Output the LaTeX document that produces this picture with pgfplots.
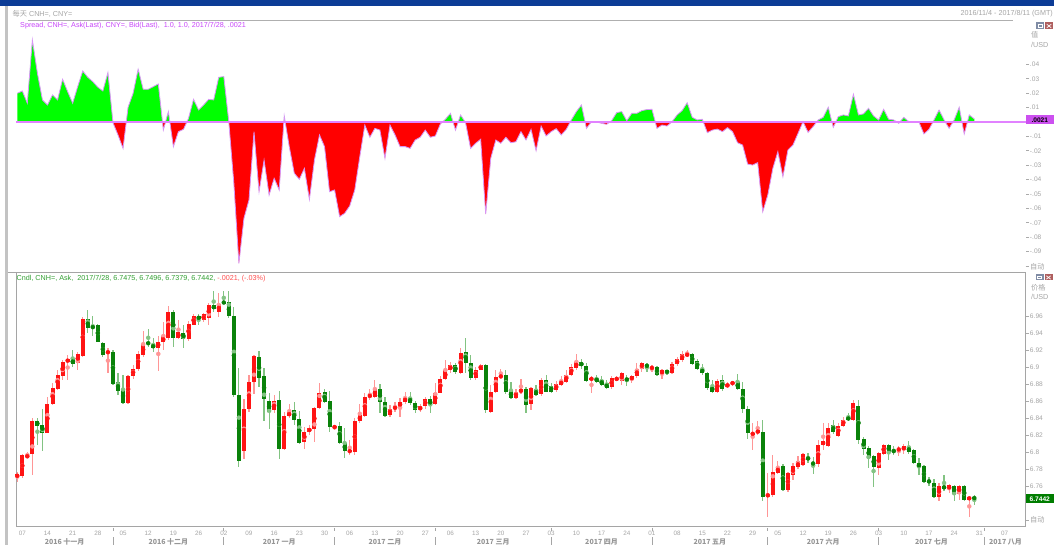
\documentclass[border=0pt]{standalone}
\usepackage{fontspec}
\setmainfont{Liberation Sans}
\newfontfamily\cjk{Noto Sans CJK SC}
\usepackage{pgfplots}
\usepackage{pgfplotstable}
\pgfplotsset{compat=1.18}

\definecolor{barblue}{RGB}{12,60,150}
\definecolor{framegray}{RGB}{195,195,195}
\definecolor{labgray}{RGB}{165,165,165}
\definecolor{hdrgray}{RGB}{175,175,175}
\definecolor{tickgray}{RGB}{170,170,170}
\definecolor{boxgray}{RGB}{165,165,165}
\definecolor{mgray}{RGB}{150,150,150}
\definecolor{sgreen}{RGB}{0,255,0}
\definecolor{sred}{RGB}{255,0,0}
\definecolor{slinec}{RGB}{215,150,245}
\definecolor{zlinec}{RGB}{225,130,255}
\definecolor{titleviolet}{RGB}{200,70,250}
\definecolor{cred}{RGB}{255,20,20}
\definecolor{cgreen}{RGB}{10,130,10}
\definecolor{wred}{RGB}{255,150,150}
\definecolor{wgreen}{RGB}{130,195,130}
\definecolor{cndlgreen}{RGB}{50,160,50}
\definecolor{cndlred}{RGB}{255,80,80}
\definecolor{boxviolet}{RGB}{204,80,240}
\definecolor{boxgreen}{RGB}{0,125,0}
\definecolor{iconblue}{RGB}{128,140,165}
\definecolor{iconred}{RGB}{175,95,95}

\newcommand\ticklab{\fontsize{6.6}{7.5}\selectfont}
\newcommand\daylab{\fontsize{6.3}{7}\selectfont}
\newcommand\ttl{\fontsize{7.2}{8.5}\selectfont}
\newcommand\monthfont{\cjk\bfseries\fontsize{7}{8}\selectfont}

\pgfplotstableread{
i o h l c
-1 6.770 6.777 6.765 6.774
0 6.772 6.798 6.770 6.796
1 6.794 6.800 6.793 6.796
2 6.798 6.840 6.773 6.836
3 6.836 6.840 6.808 6.831
4 6.832 6.851 6.801 6.823
5 6.823 6.865 6.822 6.856
6 6.856 6.881 6.855 6.875
7 6.874 6.896 6.873 6.891
8 6.890 6.908 6.885 6.906
9 6.906 6.914 6.885 6.909
10 6.909 6.920 6.900 6.904
11 6.905 6.918 6.896 6.915
12 6.913 6.959 6.912 6.957
13 6.956 6.967 6.940 6.946
14 6.948 6.960 6.936 6.946
15 6.950 6.951 6.929 6.930
16 6.928 6.930 6.912 6.914
17 6.916 6.922 6.893 6.919
18 6.918 6.920 6.879 6.880
19 6.883 6.893 6.867 6.872
20 6.874 6.891 6.856 6.858
21 6.858 6.891 6.857 6.890
22 6.889 6.902 6.886 6.898
23 6.898 6.919 6.895 6.915
24 6.914 6.942 6.912 6.927
25 6.929 6.945 6.924 6.927
26 6.927 6.934 6.918 6.922
27 6.922 6.936 6.895 6.930
28 6.929 6.953 6.920 6.936
29 6.934 6.972 6.932 6.965
30 6.965 6.967 6.924 6.934
31 6.934 6.955 6.933 6.941
32 6.940 6.949 6.922 6.933
33 6.933 6.954 6.931 6.951
34 6.950 6.962 6.949 6.960
35 6.960 6.962 6.949 6.956
36 6.955 6.964 6.953 6.962
37 6.958 6.975 6.949 6.973
38 6.973 6.989 6.965 6.968
39 6.965 6.987 6.959 6.974
40 6.977 6.989 6.974 6.975
41 6.976 6.989 6.958 6.960
42 6.960 6.971 6.865 6.867
43 6.867 6.899 6.782 6.789
44 6.801 6.863 6.792 6.851
45 6.851 6.891 6.847 6.882
46 6.882 6.914 6.868 6.913
47 6.912 6.919 6.877 6.887
48 6.889 6.899 6.836 6.862
49 6.860 6.870 6.827 6.847
50 6.849 6.867 6.846 6.860
51 6.861 6.872 6.792 6.804
52 6.804 6.847 6.802 6.842
53 6.842 6.856 6.840 6.847
54 6.849 6.859 6.832 6.838
55 6.839 6.848 6.810 6.811
56 6.812 6.830 6.804 6.824
57 6.824 6.832 6.820 6.828
58 6.827 6.853 6.812 6.852
59 6.852 6.881 6.851 6.869
60 6.870 6.874 6.858 6.859
61 6.860 6.872 6.824 6.829
62 6.828 6.832 6.826 6.831
63 6.831 6.835 6.809 6.811
64 6.811 6.828 6.793 6.801
65 6.800 6.814 6.796 6.802
66 6.800 6.840 6.796 6.836
67 6.836 6.856 6.834 6.844
68 6.842 6.869 6.841 6.865
69 6.865 6.874 6.861 6.867
70 6.865 6.885 6.863 6.874
71 6.874 6.880 6.846 6.859
72 6.859 6.865 6.841 6.842
73 6.844 6.855 6.841 6.851
74 6.850 6.859 6.847 6.854
75 6.853 6.863 6.841 6.859
76 6.859 6.871 6.856 6.864
77 6.864 6.871 6.855 6.858
78 6.858 6.860 6.846 6.849
79 6.849 6.856 6.847 6.854
80 6.854 6.865 6.851 6.862
81 6.862 6.866 6.846 6.855
82 6.857 6.881 6.855 6.870
83 6.870 6.889 6.869 6.886
84 6.886 6.908 6.885 6.896
85 6.896 6.906 6.893 6.902
86 6.902 6.905 6.892 6.894
87 6.893 6.922 6.892 6.917
88 6.918 6.934 6.893 6.905
89 6.905 6.914 6.885 6.887
90 6.887 6.900 6.885 6.897
91 6.897 6.904 6.896 6.902
92 6.902 6.904 6.846 6.849
93 6.847 6.879 6.846 6.871
94 6.871 6.896 6.869 6.888
95 6.888 6.898 6.887 6.890
96 6.891 6.896 6.868 6.871
97 6.872 6.883 6.862 6.864
98 6.864 6.874 6.863 6.871
99 6.870 6.886 6.868 6.874
100 6.874 6.877 6.846 6.855
101 6.856 6.877 6.850 6.875
102 6.874 6.879 6.866 6.867
103 6.868 6.887 6.866 6.885
104 6.885 6.891 6.870 6.871
105 6.878 6.881 6.869 6.871
106 6.873 6.883 6.871 6.880
107 6.879 6.889 6.878 6.884
108 6.883 6.896 6.881 6.891
109 6.891 6.904 6.889 6.900
110 6.899 6.915 6.897 6.906
111 6.906 6.909 6.898 6.901
112 6.901 6.905 6.883 6.884
113 6.885 6.889 6.869 6.887
114 6.887 6.891 6.881 6.883
115 6.885 6.889 6.878 6.879
116 6.881 6.885 6.874 6.875
117 6.876 6.889 6.874 6.887
118 6.885 6.889 6.883 6.887
119 6.883 6.894 6.879 6.893
120 6.887 6.891 6.878 6.884
121 6.885 6.891 6.881 6.889
122 6.889 6.905 6.887 6.898
123 6.898 6.906 6.894 6.905
124 6.903 6.905 6.894 6.900
125 6.898 6.902 6.894 6.900
126 6.900 6.901 6.889 6.891
127 6.892 6.898 6.886 6.896
128 6.896 6.897 6.891 6.893
129 6.893 6.906 6.892 6.904
130 6.903 6.912 6.901 6.909
131 6.908 6.919 6.906 6.915
132 6.914 6.920 6.912 6.915
133 6.915 6.917 6.902 6.904
134 6.907 6.910 6.897 6.898
135 6.898 6.904 6.891 6.893
136 6.893 6.894 6.873 6.875
137 6.877 6.885 6.870 6.871
138 6.871 6.886 6.870 6.884
139 6.885 6.891 6.872 6.874
140 6.877 6.882 6.875 6.880
141 6.880 6.884 6.878 6.882
142 6.883 6.892 6.873 6.874
143 6.874 6.882 6.846 6.851
144 6.851 6.854 6.815 6.822
145 6.820 6.834 6.802 6.823
146 6.822 6.836 6.820 6.826
147 6.824 6.838 6.742 6.747
148 6.747 6.775 6.723 6.751
149 6.749 6.796 6.747 6.776
150 6.775 6.789 6.774 6.783
151 6.783 6.786 6.754 6.755
152 6.755 6.777 6.753 6.775
153 6.773 6.787 6.767 6.783
154 6.782 6.795 6.780 6.789
155 6.785 6.799 6.784 6.798
156 6.794 6.799 6.787 6.791
157 6.787 6.794 6.774 6.786
158 6.786 6.814 6.783 6.808
159 6.808 6.834 6.802 6.813
160 6.807 6.834 6.806 6.828
161 6.832 6.838 6.821 6.824
162 6.819 6.834 6.818 6.831
163 6.831 6.841 6.829 6.838
164 6.841 6.846 6.836 6.838
165 6.838 6.861 6.837 6.858
166 6.854 6.861 6.809 6.814
167 6.815 6.818 6.796 6.803
168 6.805 6.807 6.781 6.793
169 6.795 6.796 6.759 6.782
170 6.781 6.800 6.773 6.799
171 6.798 6.809 6.797 6.808
172 6.808 6.809 6.790 6.800
173 6.802 6.807 6.796 6.800
174 6.802 6.807 6.795 6.804
175 6.802 6.810 6.798 6.807
176 6.806 6.813 6.798 6.800
177 6.802 6.804 6.786 6.787
178 6.787 6.793 6.773 6.782
179 6.783 6.785 6.763 6.765
180 6.767 6.771 6.760 6.764
181 6.764 6.768 6.746 6.747
182 6.747 6.763 6.742 6.760
183 6.760 6.773 6.754 6.757
184 6.756 6.763 6.752 6.761
185 6.760 6.761 6.742 6.751
186 6.751 6.761 6.744 6.760
187 6.760 6.761 6.742 6.744
188 6.744 6.748 6.724 6.747
189 6.7475 6.7496 6.7379 6.7442
}\candles

\pgfplotstableread{
i v
-1 0.0199
0 0.0215
1 0.0130
2 0.0569
3 0.0338
4 0.0153
5 0.0118
6 0.0188
7 0.0153
8 0.0296
9 0.0211
10 0.0130
11 0.0245
12 0.0354
13 0.0310
14 0.0280
15 0.0241
16 0.0215
17 0.0343
18 -0.0005
19 -0.0090
20 -0.0183
21 0.0102
22 0.0199
23 0.0366
24 0.0227
25 0.0227
26 0.0245
27 0.0264
28 -0.0056
29 0.0072
30 -0.0171
31 -0.0067
32 -0.0051
33 0.0025
34 0.0157
35 0.0083
36 0.0118
37 0.0157
38 0.0153
39 0.0310
40 0.0315
41 0.0000
42 -0.0426
43 -0.0981
44 -0.0669
45 -0.0542
46 -0.0067
47 -0.0484
48 -0.0264
49 -0.0507
50 -0.0391
51 -0.0472
52 0.0042
53 -0.0171
54 -0.0356
55 -0.0398
56 -0.0322
57 -0.0537
58 -0.0264
59 -0.0090
60 -0.0171
61 -0.0484
62 -0.0472
63 -0.0657
64 -0.0634
65 -0.0583
66 -0.0472
67 -0.0241
68 -0.0021
69 -0.0106
70 -0.0044
71 -0.0056
72 -0.0252
73 -0.0021
74 -0.0090
75 -0.0171
76 -0.0171
77 -0.0183
78 -0.0125
79 -0.0106
80 -0.0056
81 -0.0106
82 -0.0097
83 -0.0014
84 0.0019
85 0.0060
86 -0.0056
87 0.0049
88 -0.0005
89 -0.0183
90 -0.0148
91 -0.0120
92 -0.0639
93 -0.0252
94 -0.0125
95 -0.0148
96 -0.0106
97 -0.0144
98 -0.0137
99 -0.0067
100 -0.0125
101 -0.0051
102 -0.0199
103 -0.0028
104 -0.0097
105 -0.0067
106 -0.0046
107 -0.0090
108 -0.0051
109 0.0014
110 0.0072
111 0.0118
112 -0.0044
113 0.0002
114 0.0000
115 -0.0009
116 -0.0016
117 0.0009
118 0.0065
119 0.0072
120 0.0009
121 0.0060
122 0.0060
123 0.0079
124 0.0086
125 0.0088
126 -0.0044
127 -0.0021
128 -0.0028
129 0.0002
130 0.0049
131 0.0079
132 0.0134
133 0.0032
134 0.0014
135 0.0019
136 -0.0074
137 -0.0056
138 -0.0049
139 -0.0067
140 -0.0039
141 -0.0067
142 -0.0144
143 -0.0160
144 -0.0292
145 -0.0299
146 -0.0282
147 -0.0623
148 -0.0507
149 -0.0322
150 -0.0206
151 -0.0380
152 -0.0194
153 -0.0160
154 -0.0079
155 0.0002
156 -0.0072
157 -0.0032
158 0.0014
159 0.0032
160 0.0102
161 -0.0037
162 0.0037
163 0.0049
164 0.0042
165 0.0192
166 0.0049
167 0.0056
168 0.0095
169 0.0042
170 0.0014
171 0.0088
172 0.0019
173 0.0014
174 -0.0009
175 0.0032
176 0.0002
177 0.0002
178 0.0000
179 -0.0083
180 -0.0051
181 0.0014
182 0.0083
183 0.0014
184 -0.0044
185 0.0014
186 0.0102
187 -0.0083
188 0.0049
189 0.0021
}\spread

\pgfplotsset{
  panel/.style={
    anchor=south west, scale only axis, width=1009.7pt,
    xmin=-1.25, xmax=199.2,
    scaled y ticks=false, scaled x ticks=false,
    ytick pos=right, yticklabel pos=right,
    ytick align=outside, major tick length=3.5pt,
    tick style={tickgray, line width=0.6pt},
    yticklabel style={font=\ticklab, text=labgray, inner sep=0.6pt, anchor=west},
  },
}

\begin{document}
\begin{tikzpicture}
\begin{scope}[x=1pt,y=1pt]
\useasboundingbox (0,0) rectangle (1054,545);
\fill[white] (0,0) rectangle (1054,545);
\fill[barblue] (0,538.5) rectangle (1054,545);
\fill[framegray] (5,0) rectangle (7.5,538.5);
\node[anchor=west,inner sep=0,text=labgray,font=\ttl] at (12.5,531) {{\cjk 每天} CNH=, CNY=};
\draw[hdrgray,line width=0.8pt] (28,524.5) -- (1013,524.5);
\node[anchor=east,inner sep=0,text=labgray,font=\ttl] at (1053,531) {2016/11/4 - 2017/8/11 (GMT)};
\node[anchor=west,inner sep=0,text=titleviolet,font=\ttl] at (20,519) {Spread, CNH=, Ask(Last), CNY=, Bid(Last),\ \ 1.0, 1.0, 2017/7/28, .0021};
% icons top
\fill[iconblue] (1036,515.5) rectangle (1044,522.5);
\draw[white,line width=0.6pt] (1038,517.8) rectangle (1042,520.2);
\fill[iconred] (1045,515.5) rectangle (1053,522.5);
\draw[white,line width=0.7pt] (1046.8,517.2) -- (1051.2,520.8) (1046.8,520.8) -- (1051.2,517.2);
\node[anchor=west,inner sep=0,text=labgray,font=\ttl] at (1031,510) {\cjk 值};
\node[anchor=west,inner sep=0,text=labgray,font=\ttl] at (1031,500) {/USD};
\end{scope}

% ---------- top panel, positive part ----------
\begin{axis}[panel, at={(16pt,423pt)}, height=100pt,
  ymin=0, ymax=0.0694, axis line style={draw=none},
  xtick=\empty, ytick={0.01,0.02,0.03,0.04}, yticklabels={.01,.02,.03,.04}]
\addplot[fill=sgreen, draw=none] table[x=i,y=v]{\spread} -- (axis cs:189,0) -- (axis cs:-1,0) -- cycle;
\addplot[slinec, line width=0.8pt] table[x=i,y=v]{\spread};
\end{axis}

% ---------- top panel, negative part ----------
\begin{axis}[panel, at={(16pt,280pt)}, height=143pt,
  ymin=-0.0993, ymax=0, axis line style={draw=none},
  xtick=\empty, ytick={-0.09,-0.08,-0.07,-0.06,-0.05,-0.04,-0.03,-0.02,-0.01},
  yticklabels={-.09,-.08,-.07,-.06,-.05,-.04,-.03,-.02,-.01}]
\addplot[fill=sred, draw=none] table[x=i,y=v]{\spread} -- (axis cs:189,0) -- (axis cs:-1,0) -- cycle;
\addplot[slinec, line width=0.8pt] table[x=i,y=v]{\spread};
\coordinate (zl) at (axis cs:-1.25,0);
\coordinate (zr) at (axis cs:199.2,0);
\end{axis}
\draw[zlinec, line width=1.4pt] (zl) -- (zr);

% ---------- bottom panel: candles ----------
\begin{axis}[panel, at={(16pt,19pt)}, height=254pt,
  ymin=6.7129, ymax=7.0118, clip=false,
  axis line style={boxgray, line width=0.8pt},
  xtick={0,5,...,195},
  xticklabels={07,14,21,28,05,12,19,26,02,09,16,23,30,06,13,20,27,06,13,20,27,03,10,17,24,01,08,15,22,29,05,12,19,26,03,10,17,24,31,07},
  xtick style={draw=none},
  xticklabel style={font=\daylab, text=labgray, anchor=center, yshift=-7pt},
  ytick={6.76,6.78,6.8,6.82,6.84,6.86,6.88,6.9,6.92,6.94,6.96},
  yticklabels={6.76,6.78,6.8,6.82,6.84,6.86,6.88,6.9,6.92,6.94,6.96}]
% wicks
\addplot[only marks, mark=none, wred, forget plot,
  restrict expr to domain={\thisrow{c}-\thisrow{o}}{0:1},
  error bars/.cd, y dir=both, y explicit, error mark=none,
  error bar style={wred, line width=1.2pt}]
  table[x=i, y expr={(\thisrow{h}+\thisrow{l})/2}, y error expr={(\thisrow{h}-\thisrow{l})/2}]{\candles};
\addplot[only marks, mark=none, wgreen, forget plot,
  restrict expr to domain={\thisrow{o}-\thisrow{c}}{0.00001:1},
  error bars/.cd, y dir=both, y explicit, error mark=none,
  error bar style={wgreen, line width=1.2pt}]
  table[x=i, y expr={(\thisrow{h}+\thisrow{l})/2}, y error expr={(\thisrow{h}-\thisrow{l})/2}]{\candles};
% bodies
\addplot[only marks, mark=none, cred, forget plot,
  restrict expr to domain={\thisrow{c}-\thisrow{o}}{0:1},
  error bars/.cd, y dir=both, y explicit, error mark=none,
  error bar style={cred, line width=4pt, line cap=butt}]
  table[x=i, y expr={(\thisrow{o}+\thisrow{c})/2}, y error expr={max(abs(\thisrow{c}-\thisrow{o})/2,0.0006)}]{\candles};
\addplot[only marks, mark=none, cgreen, forget plot,
  restrict expr to domain={\thisrow{o}-\thisrow{c}}{0.00001:1},
  error bars/.cd, y dir=both, y explicit, error mark=none,
  error bar style={cgreen, line width=4pt, line cap=butt}]
  table[x=i, y expr={(\thisrow{o}+\thisrow{c})/2}, y error expr={max(abs(\thisrow{c}-\thisrow{o})/2,0.0006)}]{\candles};
% month separators
\pgfplotsinvokeforeach{18,40,62,82,105,125,148,170,191}{
  \draw[boxgray, line width=0.7pt] (axis cs:#1,6.7129) ++(0pt,-2pt) -- ++(0pt,-3pt);
  \draw[boxgray, line width=0.7pt] (axis cs:#1,6.7129) ++(0pt,-11.5pt) -- ++(0pt,-7.5pt);
}
\node[font=\monthfont, text=mgray, inner sep=0pt, yshift=-15.5pt] at (axis cs:8.4,6.7129) {2016 十一月};
\node[font=\monthfont, text=mgray, inner sep=0pt, yshift=-15.5pt] at (axis cs:29,6.7129) {2016 十二月};
\node[font=\monthfont, text=mgray, inner sep=0pt, yshift=-15.5pt] at (axis cs:51,6.7129) {2017 一月};
\node[font=\monthfont, text=mgray, inner sep=0pt, yshift=-15.5pt] at (axis cs:72,6.7129) {2017 二月};
\node[font=\monthfont, text=mgray, inner sep=0pt, yshift=-15.5pt] at (axis cs:93.5,6.7129) {2017 三月};
\node[font=\monthfont, text=mgray, inner sep=0pt, yshift=-15.5pt] at (axis cs:115,6.7129) {2017 四月};
\node[font=\monthfont, text=mgray, inner sep=0pt, yshift=-15.5pt] at (axis cs:136.5,6.7129) {2017 五月};
\node[font=\monthfont, text=mgray, inner sep=0pt, yshift=-15.5pt] at (axis cs:159,6.7129) {2017 六月};
\node[font=\monthfont, text=mgray, inner sep=0pt, yshift=-15.5pt] at (axis cs:180.5,6.7129) {2017 七月};
\node[font=\monthfont, text=mgray, inner sep=0pt, yshift=-15.5pt] at (axis cs:195.2,6.7129) {2017 八月};
\end{axis}

\begin{scope}[x=1pt,y=1pt]
\draw[boxgray,line width=0.8pt] (7.5,273) -- (16,273);
\node[anchor=west,inner sep=0,font=\ttl] at (16.5,266) {\textcolor{cndlgreen}{Cndl, CNH=, Ask,\ \ 2017/7/28, 6.7475, 6.7496, 6.7379, 6.7442,} \textcolor{cndlred}{-.0021, (-.03\%)}};
% right side labels
\draw[tickgray,line width=0.6pt] (1025.7,278.5) -- (1029.2,278.5);
\node[anchor=west,inner sep=0,text=labgray,font=\ttl] at (1030,278.5) {\cjk 自动};
\draw[tickgray,line width=0.6pt] (1025.7,25) -- (1029.2,25);
\node[anchor=west,inner sep=0,text=labgray,font=\ttl] at (1030,25) {\cjk 自动};
\fill[iconblue] (1035.5,264.5) rectangle (1043.5,270.5);
\draw[white,line width=0.6pt] (1037.5,266.5) rectangle (1041.5,268.5);
\fill[iconred] (1044.5,264.5) rectangle (1052.5,270.5);
\draw[white,line width=0.7pt] (1046.3,265.8) -- (1050.7,269.2) (1046.3,269.2) -- (1050.7,265.8);
\node[anchor=west,inner sep=0,text=labgray,font=\ttl] at (1031,257) {\cjk 价格};
\node[anchor=west,inner sep=0,text=labgray,font=\ttl] at (1031,248) {/USD};
% value boxes
\fill[boxviolet] (1026,421) rectangle (1053.5,429.5);
\node[inner sep=0,font=\ticklab\bfseries,text=black] at (1039.8,425.2) {.0021};
\fill[boxgreen] (1026,42) rectangle (1053.5,50.5);
\node[inner sep=0,font=\ticklab\bfseries,text=white] at (1039.8,46.2) {6.7442};
\end{scope}
\end{tikzpicture}
\end{document}
